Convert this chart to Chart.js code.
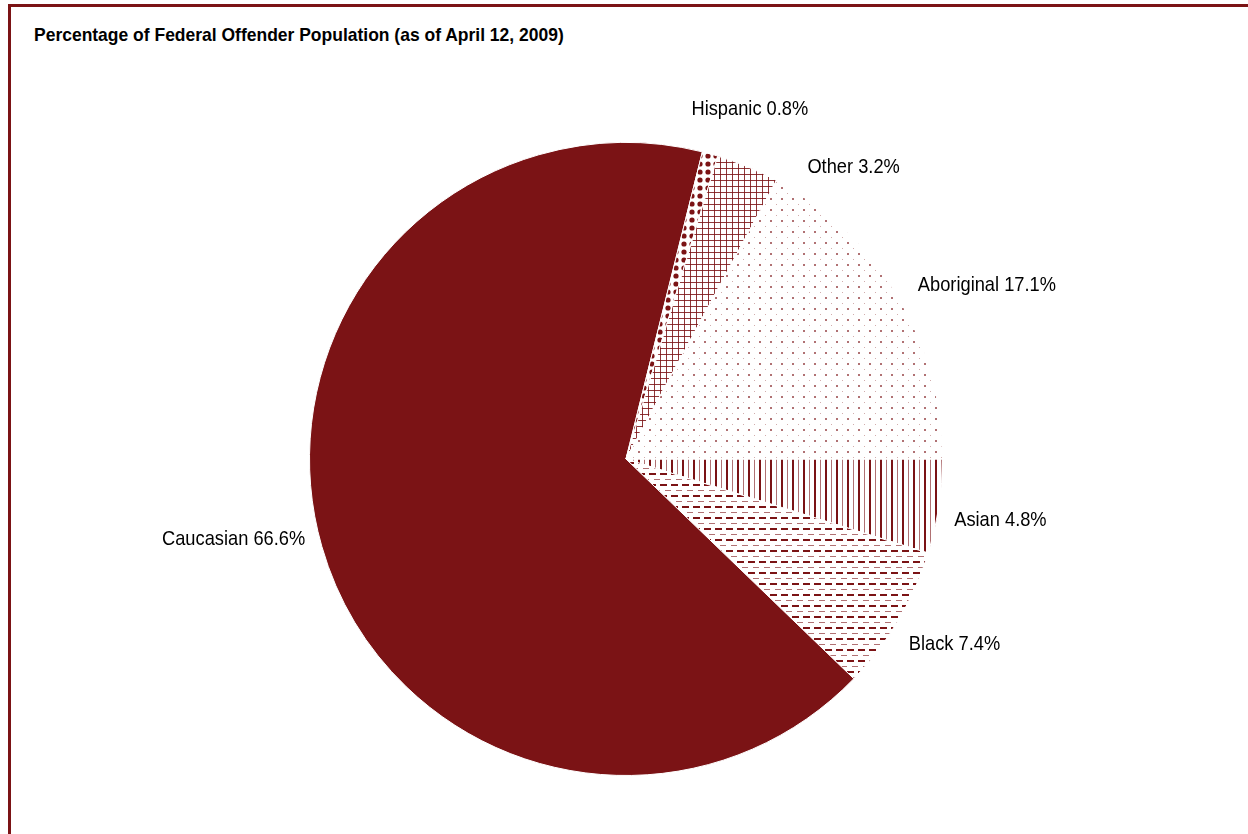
<!DOCTYPE html>
<html>
<head>
<meta charset="utf-8">
<script src="https://cdn.jsdelivr.net/npm/chart.js@4.4.0/dist/chart.umd.min.js"></script>
<style>
  html, body { margin: 0; padding: 0; background: #fff; }
  body { width: 1248px; height: 834px; position: relative; overflow: hidden; }
  #frame { position: absolute; left: 8px; top: 4px; right: -10px; bottom: -10px;
           border-top: 3px solid #7b1315; border-left: 3px solid #7b1315; }
  #title { position: absolute; left: 34px; top: 24px; font-family: 'Liberation Sans', Arial, sans-serif;
           font-weight: bold; font-size: 19px; color: #000; white-space: nowrap;
           transform: scaleX(0.92); transform-origin: 0 50%; }
  #wrap { position: absolute; left: 0; top: 0; width: 1248px; height: 834px; }
</style>
</head>
<body>
<div id="frame"></div>
<div id="title">Percentage of Federal Offender Population (as of April 12, 2009)</div>
<div id="wrap"><canvas id="c" width="1248" height="834"></canvas></div>
<script>
// ---- data ----
const categories = ['Asian', 'Black', 'Caucasian', 'Hispanic', 'Other', 'Aboriginal'];
const percentages = [4.8, 7.4, 66.6, 0.8, 3.2, 17.1];
const labelTexts = ['Asian 4.8%', 'Black 7.4%', 'Caucasian 66.6%', 'Hispanic 0.8%', 'Other 3.2%', 'Aboriginal 17.1%'];

// ---- styling ----
const RED = '#7b1315';
const RED_L = 'rgba(123,19,21,0.6)';
const labelNudge = [[0, 10], [3, 11], [-4, -14], [20, -21], [82, 23], [16, 1]];
const TEXT_SCALE = 0.87;

function makePattern(w, h, draw) {
  const c = document.createElement('canvas');
  c.width = w; c.height = h;
  const g = c.getContext('2d');
  g.fillStyle = '#fff'; g.fillRect(0, 0, w, h);
  draw(g);
  return document.getElementById('c').getContext('2d').createPattern(c, 'repeat');
}
const patVertical = makePattern(11, 4, g => {
  g.fillStyle = RED; g.fillRect(0, 0, 2, 4);
  g.fillStyle = RED_L; g.fillRect(6, 0, 1, 4);
});
const patDash = makePattern(22, 11, g => {
  g.fillStyle = RED; g.fillRect(0, 0, 7, 2); g.fillRect(11, 0, 7, 2);
  g.fillStyle = RED_L; g.fillRect(5, 6, 6, 1); g.fillRect(16, 6, 6, 1);
});
const patDots = makePattern(11, 11, g => {
  g.fillStyle = RED_L; g.fillRect(0, 0, 2, 2);
  g.fillStyle = 'rgba(123,19,21,0.35)'; g.fillRect(6, 6, 1, 1);
});
const patGrid = makePattern(6, 6, g => {
  g.fillStyle = 'rgba(123,19,21,0.85)'; g.fillRect(0, 0, 6, 1); g.fillRect(0, 0, 1, 6);
});
const patBigDots = makePattern(8, 8, g => {
  g.fillStyle = RED; g.beginPath(); g.arc(4, 4, 2.6, 0, Math.PI * 2); g.fill();
});
const fills = [patVertical, patDash, RED, patBigDots, patGrid, patDots];

const FONT = "21px 'Liberation Sans', Arial, sans-serif";

const labelPlugin = {
  id: 'outLabels',
  afterDatasetsDraw(chart) {
    const ctx = chart.ctx;
    const meta = chart.getDatasetMeta(0);
    ctx.save();
    ctx.font = FONT;
    ctx.fillStyle = '#000';
    ctx.textAlign = 'center';
    ctx.textBaseline = 'middle';
    meta.data.forEach((arc, i) => {
      const p = arc.getProps(['x', 'y', 'startAngle', 'endAngle', 'outerRadius'], true);
      const mid = (p.startAngle + p.endAngle) / 2;
      const r = p.outerRadius + 16;
      const cs = Math.cos(mid), sn = Math.sin(mid);
      const w = ctx.measureText(labelTexts[i]).width * TEXT_SCALE;
      const h = 18;
      const cx = p.x + cs * r + cs * w / 2 + labelNudge[i][0];
      const cy = p.y + sn * r + sn * h / 2 + labelNudge[i][1];
      ctx.save();
      ctx.translate(cx, cy);
      ctx.scale(TEXT_SCALE, 1);
      ctx.fillText(labelTexts[i], 0, 0);
      ctx.restore();
    });
    ctx.restore();
  }
};

new Chart(document.getElementById('c'), {
  type: 'pie',
  data: {
    labels: categories,
    datasets: [{
      data: percentages,
      backgroundColor: fills,
      borderColor: '#fff',
      borderWidth: 1
    }]
  },
  options: {
    responsive: false,
    animation: false,
    rotation: 90,
    layout: { padding: { left: 309, right: 305, top: 142, bottom: 58 } },
    plugins: { legend: { display: false }, tooltip: { enabled: false }, title: { display: false } }
  },
  plugins: [labelPlugin]
});
</script>
</body>
</html>
